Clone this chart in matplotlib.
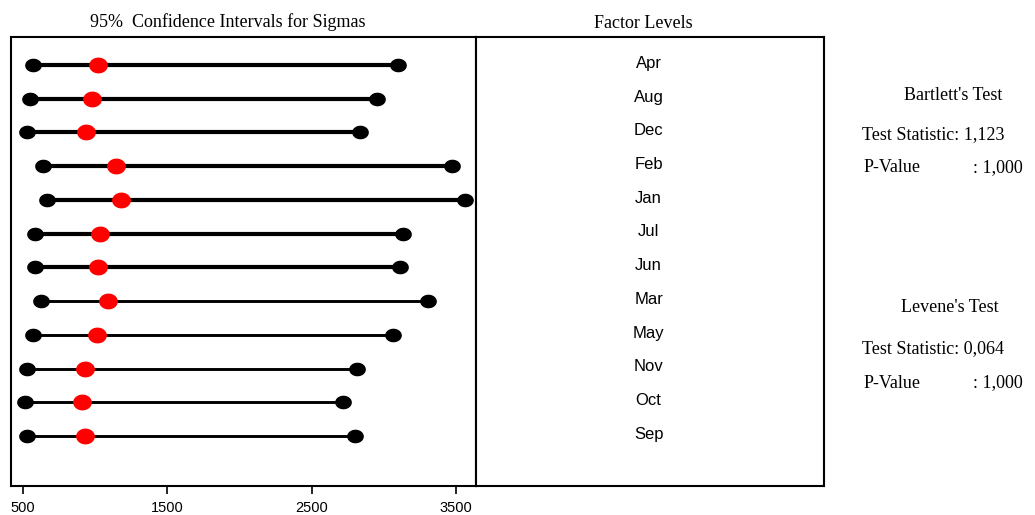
import matplotlib.pyplot as plt
import numpy as np
from matplotlib.path import Path

months = ["Apr", "Aug", "Dec", "Feb", "Jan", "Jul", "Jun", "Mar", "May", "Nov", "Oct", "Sep"]
lower = [569, 549, 528, 639, 667, 583, 583, 625, 569, 528, 514, 528]
sigma = [1021, 979, 938, 1146, 1181, 1035, 1021, 1090, 1014, 931, 910, 931]
upper = [3097, 2951, 2833, 3472, 3563, 3132, 3111, 3306, 3063, 2813, 2715, 2799]
thick = [True, True, True, True, True, True, True, False, False, False, False, False]

xticks = [500, 1500, 2500, 3500]

bartlett_stat = "1,123"
bartlett_p = "1,000"
levene_stat = "0,064"
levene_p = "1,000"

# slightly wide ellipse markers
t = np.linspace(0, 2 * np.pi, 40)
ell_black = Path(np.column_stack([1.25 * np.cos(t), np.sin(t)]), closed=True)
ell_red = Path(np.column_stack([1.2 * np.cos(t), np.sin(t)]), closed=True)

serif = "Liberation Serif"
sans = "Liberation Sans"
fs = 13

fig = plt.figure(figsize=(10.35, 5.15), dpi=100)
ax = fig.add_axes([0.0106, 0.0563, 0.4493, 0.8719])
ax2 = fig.add_axes([0.4599, 0.0563, 0.3362, 0.8719])

y = np.arange(1, len(months) + 1)
for i in range(len(months)):
    lw = 3.0 if thick[i] else 2.1
    ax.plot([lower[i], upper[i]], [y[i], y[i]], color="black", lw=lw, zorder=1)
    ax.plot([lower[i], upper[i]], [y[i], y[i]], ls="none", marker=ell_black,
            ms=11, color="black", zorder=2)
    ax.plot(sigma[i], y[i], ls="none", marker=ell_red, ms=12.5, color="#ff0000", zorder=3)

ax.set_xlim(417, 3639)
ax.set_ylim(13.48, 0.17)
ax.set_yticks([])
ax.set_xticks(xticks)
ax.set_xticklabels([str(v) for v in xticks], fontfamily=sans, fontsize=10.5)
ax.tick_params(axis="x", direction="out", length=6, width=1.2, pad=5)
for s in ax.spines.values():
    s.set_linewidth(1.5)

ax2.set_ylim(13.48, 0.17)
ax2.set_xlim(0, 1)
ax2.set_xticks([])
ax2.set_yticks([])
for s in ax2.spines.values():
    s.set_linewidth(1.5)
for i, m in enumerate(months):
    ax2.text(0.496, y[i] - 0.05, m, ha="center", va="center", fontfamily=sans, fontsize=12)

fig.text(228 / 1035, 1 - 22 / 515, "95%  Confidence Intervals for Sigmas", ha="center",
         va="center", fontfamily=serif, fontsize=fs)
fig.text(643 / 1035, 1 - 24 / 515, "Factor Levels", ha="center", va="center",
         fontfamily=serif, fontsize=fs)

fig.text(953 / 1035, 1 - 96 / 515, "Bartlett's Test", ha="center", va="center",
         fontfamily=serif, fontsize=fs)
fig.text(862 / 1035, 1 - 135 / 515, "Test Statistic: " + bartlett_stat, ha="left",
         va="center", fontfamily=serif, fontsize=fs)
fig.text(864 / 1035, 1 - 168 / 515, "P-Value", ha="left", va="center",
         fontfamily=serif, fontsize=fs)
fig.text(973 / 1035, 1 - 168 / 515, ": " + bartlett_p, ha="left", va="center",
         fontfamily=serif, fontsize=fs)

fig.text(950 / 1035, 1 - 307 / 515, "Levene's Test", ha="center", va="center",
         fontfamily=serif, fontsize=fs)
fig.text(862 / 1035, 1 - 349 / 515, "Test Statistic: " + levene_stat, ha="left",
         va="center", fontfamily=serif, fontsize=fs)
fig.text(864 / 1035, 1 - 383 / 515, "P-Value", ha="left", va="center",
         fontfamily=serif, fontsize=fs)
fig.text(973 / 1035, 1 - 383 / 515, ": " + levene_p, ha="left", va="center",
         fontfamily=serif, fontsize=fs)

fig.savefig("out.png", dpi=100)
